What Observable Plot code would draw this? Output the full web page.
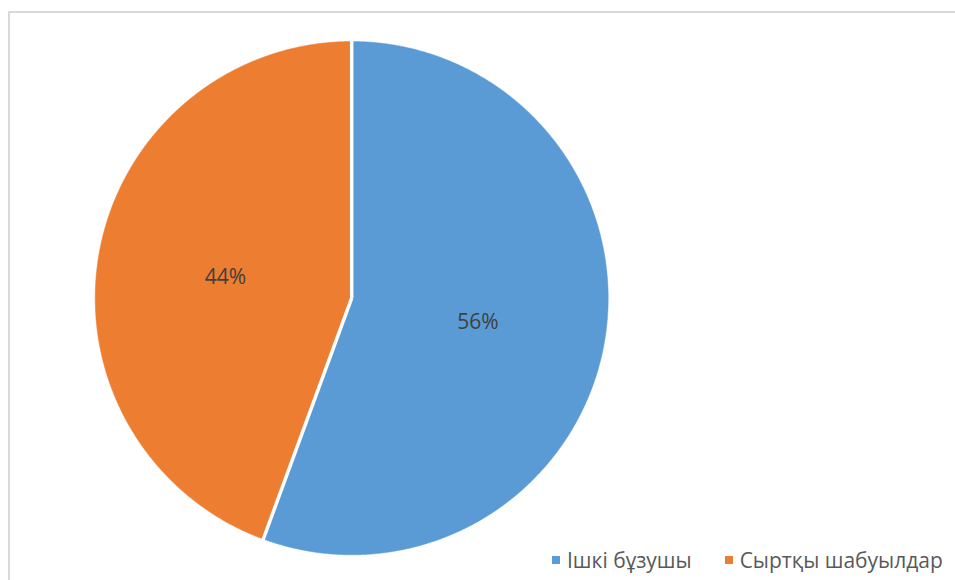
<!DOCTYPE html>
<html><head><meta charset="utf-8">
<script src="https://cdn.jsdelivr.net/npm/d3@7"></script>
<script src="https://cdn.jsdelivr.net/npm/@observablehq/plot@0.6"></script>
<style>
html,body{margin:0;padding:0;background:#fff;width:955px;height:580px;overflow:hidden;position:relative;font-family:"Open Sans",sans-serif;}
#frame{position:absolute;left:8px;top:11px;width:1200px;height:1200px;border:2px solid #d9d9d9;box-sizing:border-box;pointer-events:none;}
#chart{position:absolute;left:0;top:0;}
#legend{position:absolute;top:545px;left:552px;font-size:21px;line-height:30px;color:#595959;display:flex;align-items:center;white-space:nowrap;}
#legend .it{display:flex;align-items:center;margin-right:33px;}
#legend .sw{width:8px;height:8px;margin-right:7px;}
</style></head><body>
<div id="frame"></div>
<div id="chart"></div>
<div id="legend"></div>
<script>
const categories = ["Ішкі бұзушы", "Сыртқы шабуылдар"];
const values = [55.6, 44.4];
const labels = ["56%", "44%"];
const colors = ["#5b9bd5", "#ed7d31"];

const data = categories.map((c, i) => ({category: c, value: values[i], label: labels[i]}));
const arcs = d3.pie().sort(null).value(d => d.value)(data);

const pts = [];
const labelPts = [];
const seps = [];
for (const a of arcs) {
  const c = a.data.category;
  pts.push({category: c, x: 0, y: 0});
  const n = Math.max(2, Math.ceil((a.endAngle - a.startAngle) / 0.004));
  for (let k = 0; k <= n; k++) {
    const t = a.startAngle + (a.endAngle - a.startAngle) * k / n;
    pts.push({category: c, x: Math.sin(t), y: Math.cos(t)});
  }
  const m = (a.startAngle + a.endAngle) / 2;
  labelPts.push({label: a.data.label, x: 0.5 * Math.sin(m), y: 0.5 * Math.cos(m)});
  seps.push({x1: 0, y1: 0, x2: 1.01 * Math.sin(a.startAngle), y2: 1.01 * Math.cos(a.startAngle)});
}

const chart = Plot.plot({
  width: 955,
  height: 580,
  marginLeft: 94.7,
  marginRight: 347.3,
  marginTop: 41,
  marginBottom: 25.7,
  x: {domain: [-1, 1], axis: null},
  y: {domain: [-1, 1], axis: null},
  color: {domain: categories, range: colors},
  style: {background: "transparent", fontFamily: "Open Sans, sans-serif", overflow: "visible"},
  marks: [
    Plot.line(pts, {x: "x", y: "y", z: "category", fill: "category", stroke: "category", strokeWidth: 0.5, curve: "linear-closed"}),
    Plot.link(seps, {x1: "x1", y1: "y1", x2: "x2", y2: "y2", stroke: "white", strokeWidth: 3.5}),
    Plot.text(labelPts, {x: "x", y: "y", text: "label", fill: "#404040", fontSize: 21, dy: 2})
  ]
});
document.getElementById("chart").appendChild(chart);

const lg = document.getElementById("legend");
categories.forEach((c, i) => {
  const it = document.createElement("div");
  it.className = "it";
  const sw = document.createElement("span");
  sw.className = "sw";
  sw.style.background = colors[i];
  const tx = document.createElement("span");
  tx.textContent = c;
  it.appendChild(sw); it.appendChild(tx);
  lg.appendChild(it);
});
</script>
</body></html>
